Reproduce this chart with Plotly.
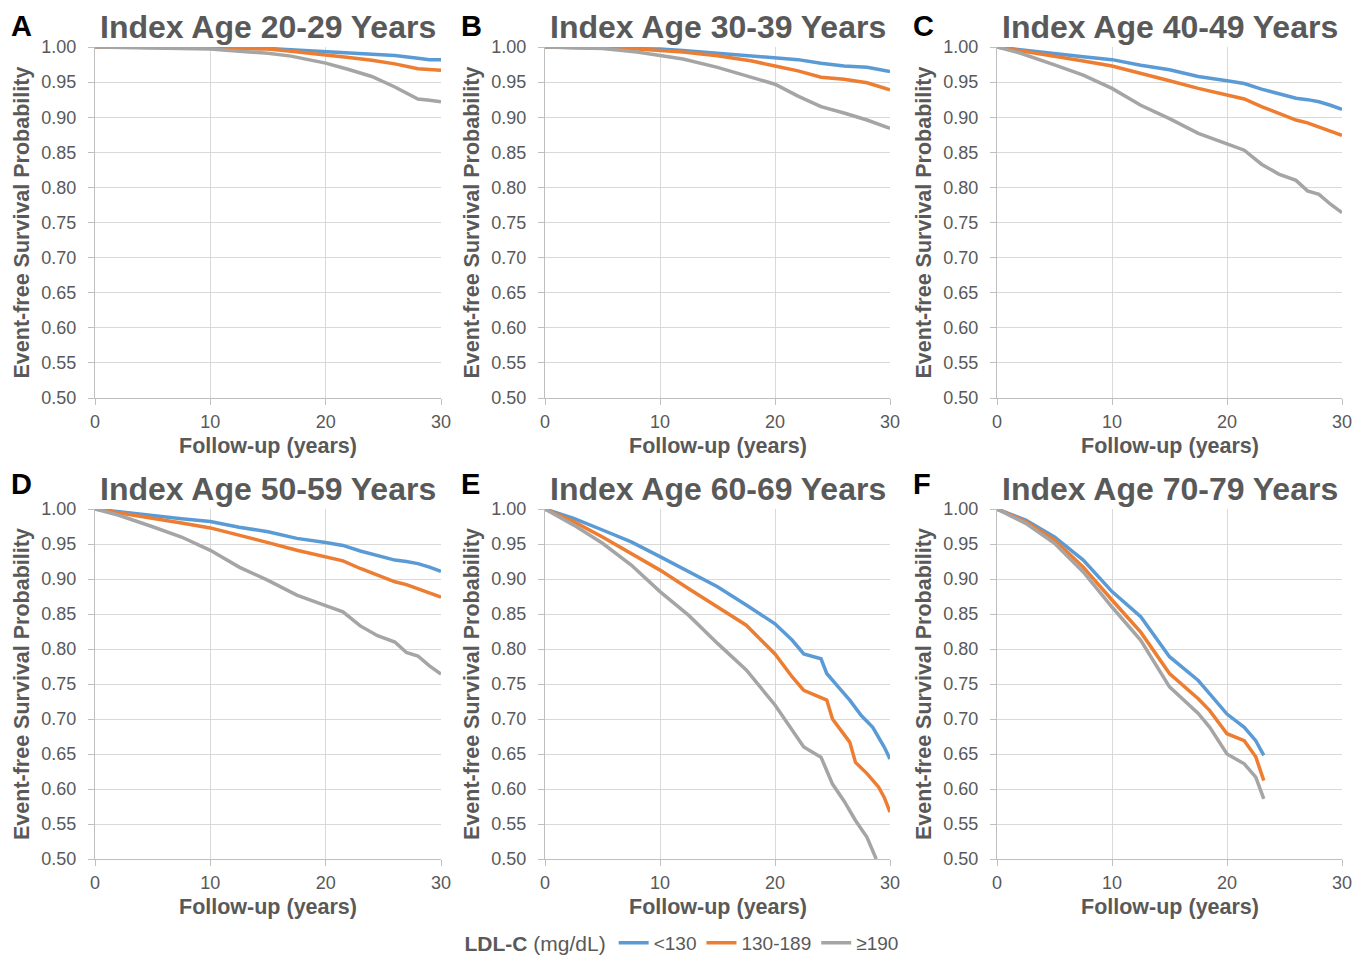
import plotly.graph_objects as go

# ---------------- data ----------------
PANEL_LETTERS = ["A", "B", "C", "D", "E", "F"]
PANEL_TITLES = ["Index Age 20-29 Years", "Index Age 30-39 Years", "Index Age 40-49 Years",
                "Index Age 50-59 Years", "Index Age 60-69 Years", "Index Age 70-79 Years"]
SERIES_NAMES = ["<130", "130-189", "≥190"]
X_TICKS = [0, 10, 20, 30]
Y_TICKS = [0.50, 0.55, 0.60, 0.65, 0.70, 0.75, 0.80, 0.85, 0.90, 0.95, 1.00]

# Panel A (20-29)
A_T = [0, 5, 10, 12.5, 15, 17, 20, 22, 24, 26, 28, 29, 30]
A_LOW = [1.0, 1.0, 0.999, 0.998, 0.998, 0.996, 0.993, 0.991, 0.989, 0.988, 0.984, 0.982, 0.982]
A_MID = [1.0, 1.0, 0.999, 0.998, 0.997, 0.994, 0.989, 0.985, 0.981, 0.976, 0.969, 0.968, 0.967]
A_HIGH = [1.0, 0.999, 0.997, 0.994, 0.991, 0.987, 0.977, 0.968, 0.958, 0.943, 0.926, 0.924, 0.922]

# Panel B (30-39)
B_T = [0, 5, 8, 10, 12, 15, 18, 20, 22, 24, 26, 28, 30]
B_LOW = [1.0, 0.999, 0.998, 0.997, 0.995, 0.991, 0.988, 0.985, 0.982, 0.977, 0.973, 0.971, 0.965]
B_MID = [1.0, 0.999, 0.997, 0.995, 0.993, 0.9875, 0.980, 0.973, 0.966, 0.957, 0.954, 0.949, 0.939]
B_HIGH = [1.0, 0.998, 0.993, 0.9885, 0.983, 0.971, 0.956, 0.947, 0.930, 0.915, 0.906, 0.896, 0.884]

# Panel C (40-49)
C_T = [0, 2, 5, 7.5, 10, 12.5, 15, 17.5, 20, 21.5, 23, 24.5, 26, 27, 28, 29, 30]
C_LOW = [1.0, 0.996, 0.9905, 0.986, 0.982, 0.974, 0.9675, 0.958, 0.952, 0.948, 0.940, 0.933, 0.927, 0.925, 0.922, 0.917, 0.911]
C_MID = [1.0, 0.995, 0.9866, 0.980, 0.973, 0.963, 0.952, 0.941, 0.9316, 0.926, 0.915, 0.906, 0.896, 0.892, 0.886, 0.880, 0.874]
C_HIGH = [1.0, 0.9914, 0.9746, 0.960, 0.941, 0.917, 0.898, 0.877, 0.862, 0.853, 0.833, 0.819, 0.810, 0.795, 0.790, 0.776, 0.764]

# Panel D (50-59)
D_T = [0, 2, 5, 7.5, 10, 12.5, 15, 17.5, 20, 21.5, 23, 24.5, 26, 27, 28, 29, 30]
D_LOW = [1.0, 0.996, 0.9905, 0.986, 0.982, 0.974, 0.9675, 0.958, 0.952, 0.948, 0.940, 0.933, 0.927, 0.925, 0.922, 0.917, 0.911]
D_MID = [1.0, 0.995, 0.9866, 0.980, 0.973, 0.963, 0.952, 0.941, 0.9316, 0.926, 0.915, 0.906, 0.896, 0.892, 0.886, 0.880, 0.874]
D_HIGH = [1.0, 0.9914, 0.9746, 0.960, 0.941, 0.917, 0.898, 0.877, 0.862, 0.853, 0.833, 0.819, 0.810, 0.795, 0.790, 0.776, 0.764]

# Panel E (60-69)
E_T_LOW = [0, 2.5, 5, 7.5, 10, 12.5, 15, 17.5, 20, 21.5, 22.5, 24, 24.5, 25.5, 26.5, 27.5, 28.5, 29.5, 30]
E_LOW = [1.0, 0.9866, 0.970, 0.953, 0.932, 0.910, 0.889, 0.863, 0.836, 0.8125, 0.793, 0.786, 0.765, 0.746, 0.727, 0.705, 0.688, 0.660, 0.643]
E_T_MID = [0, 2.5, 5, 7.5, 10, 12.5, 15, 17.5, 20, 21.5, 22.5, 23.5, 24.5, 25, 26, 26.5, 27, 28, 29, 29.5, 30]
E_MID = [1.0, 0.982, 0.960, 0.9366, 0.9127, 0.886, 0.860, 0.834, 0.793, 0.760, 0.741, 0.734, 0.727, 0.700, 0.679, 0.667, 0.638, 0.622, 0.603, 0.588, 0.567]
E_T_HIGH = [0, 2.5, 5, 7.5, 10, 12.5, 15, 17.5, 20, 21.5, 22.5, 24, 25, 26, 27, 28, 28.8]
E_HIGH = [1.0, 0.977, 0.951, 0.920, 0.882, 0.848, 0.808, 0.770, 0.720, 0.684, 0.660, 0.6455, 0.607, 0.583, 0.555, 0.531, 0.50]

# Panel F (70-79)
F_T = [0, 2.5, 5, 7.5, 10, 12.5, 15, 17.5, 18.5, 20, 21.5, 22.5, 23.2]
F_LOW = [1.0, 0.984, 0.960, 0.927, 0.882, 0.846, 0.789, 0.755, 0.736, 0.707, 0.688, 0.669, 0.648]
F_MID = [1.0, 0.982, 0.956, 0.917, 0.870, 0.824, 0.765, 0.729, 0.712, 0.679, 0.669, 0.646, 0.612]
F_HIGH = [1.0, 0.9795, 0.951, 0.910, 0.860, 0.8125, 0.746, 0.708, 0.688, 0.650, 0.636, 0.617, 0.586]

PANELS = [
    [(A_T, A_LOW), (A_T, A_MID), (A_T, A_HIGH)],
    [(B_T, B_LOW), (B_T, B_MID), (B_T, B_HIGH)],
    [(C_T, C_LOW), (C_T, C_MID), (C_T, C_HIGH)],
    [(D_T, D_LOW), (D_T, D_MID), (D_T, D_HIGH)],
    [(E_T_LOW, E_LOW), (E_T_MID, E_MID), (E_T_HIGH, E_HIGH)],
    [(F_T, F_LOW), (F_T, F_MID), (F_T, F_HIGH)],
]

# ---------------- style / layout ----------------
# The page has an 8px body margin; size the figure so it fits the window exactly.
OFF = 8
W, H = 1350, 948
COLORS = ["#5B9BD5", "#ED7D31", "#A5A5A5"]
TXT = "#595959"
FONT = "Liberation Sans, Arial, sans-serif"
COL_PX = [(95, 441), (545, 890), (997, 1342)]   # window pixel positions
ROW_PX = [(47, 398), (509, 859)]


def px_x(p):
    return (p - OFF) / W


def px_y(p):
    return 1 - (p - OFF) / H


fig = go.Figure()
annotations = []
layout_axes = {}

for i, series in enumerate(PANELS):
    r, c = divmod(i, 3)
    n = i + 1
    xs = "" if n == 1 else str(n)
    x0, x1 = COL_PX[c]
    y0, y1 = ROW_PX[r]
    for k, (t, s) in enumerate(series):
        fig.add_trace(go.Scatter(
            x=t, y=s, mode="lines", name=SERIES_NAMES[k],
            line=dict(color=COLORS[k], width=3.5),
            xaxis="x" + xs, yaxis="y" + xs,
            showlegend=(i == 0), legendgroup=SERIES_NAMES[k],
        ))
    layout_axes["xaxis" + xs] = dict(
        domain=[px_x(x0), px_x(x1)], range=[0, 30], anchor="y" + xs,
        tickvals=X_TICKS, showgrid=True, gridcolor="#D9D9D9", gridwidth=1.2,
        showline=True, linecolor="#BFBFBF", linewidth=1.2,
        ticks="outside", ticklen=6, tickcolor="#BFBFBF",
        tickfont=dict(size=18, color=TXT, family=FONT),
        ticklabelstandoff=1, zeroline=False, fixedrange=True, automargin=False,
    )
    layout_axes["yaxis" + xs] = dict(
        domain=[px_y(y1), px_y(y0)], range=[0.5, 1.0], anchor="x" + xs,
        tickvals=Y_TICKS, tickformat=".2f", showgrid=True, gridcolor="#D9D9D9", gridwidth=1.2,
        showline=True, linecolor="#BFBFBF", linewidth=1.2,
        ticks="outside", ticklen=6, tickcolor="#BFBFBF",
        tickfont=dict(size=18, color=TXT, family=FONT),
        ticklabelstandoff=8, zeroline=False, fixedrange=True, automargin=False,
    )
    cx = (x0 + x1) / 2
    # panel title
    annotations.append(dict(
        text="<b>" + PANEL_TITLES[i] + "</b>", x=px_x(cx), y=px_y(y0 - 20),
        xref="paper", yref="paper", xanchor="center", yanchor="middle",
        showarrow=False, font=dict(size=32, color=TXT, family=FONT)))
    # panel letter
    if r == 0:
        letter_y, letter_anchor = 1.0, "top"
    else:
        letter_y, letter_anchor = px_y(y0 - 25), "middle"
    annotations.append(dict(
        text="<b>" + PANEL_LETTERS[i] + "</b>", x=px_x(x0 - 86), y=letter_y,
        xref="paper", yref="paper", xanchor="left", yanchor=letter_anchor,
        showarrow=False, font=dict(size=29, color="#000000", family=FONT)))
    # y title
    annotations.append(dict(
        text="<b>Event-free Survival Probability</b>", x=px_x(x0 - 73), y=px_y((y0 + y1) / 2),
        xref="paper", yref="paper", xanchor="center", yanchor="middle", textangle=-90,
        showarrow=False, font=dict(size=21.5, color=TXT, family=FONT)))
    # x title
    annotations.append(dict(
        text="<b>Follow-up (years)</b>", x=px_x(cx), y=px_y(y1 + 48),
        xref="paper", yref="paper", xanchor="center", yanchor="middle",
        showarrow=False, font=dict(size=21.5, color=TXT, family=FONT)))

fig.update_layout(
    width=W, height=H,
    margin=dict(l=0, r=0, t=0, b=0, pad=0, autoexpand=False),
    paper_bgcolor="white", plot_bgcolor="white",
    font=dict(family=FONT, color=TXT),
    annotations=annotations,
    legend=dict(
        orientation="h", x=px_x(683), xanchor="center", y=px_y(943), yanchor="middle",
        title=dict(text="<b>LDL-C</b> (mg/dL)", font=dict(size=21, color=TXT, family=FONT)),
        font=dict(size=19, color=TXT, family=FONT),
        itemwidth=30, tracegroupgap=0, bgcolor="rgba(0,0,0,0)",
    ),
    **layout_axes,
)

fig.write_html("out.html")
